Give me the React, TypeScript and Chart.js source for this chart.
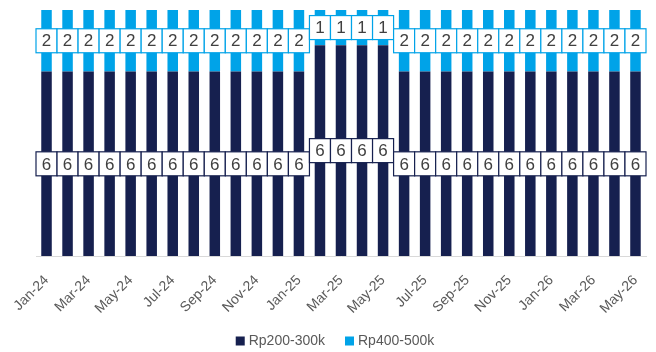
import React, { useEffect, useRef } from "react";
import { Chart, registerables } from "chart.js";

Chart.register(...registerables);

const months: string[] = [
  "Jan-24","Feb-24","Mar-24","Apr-24","May-24","Jun-24","Jul-24","Aug-24","Sep-24","Oct-24","Nov-24","Dec-24",
  "Jan-25","Feb-25","Mar-25","Apr-25","May-25","Jun-25","Jul-25","Aug-25","Sep-25","Oct-25","Nov-25","Dec-25",
  "Jan-26","Feb-26","Mar-26","Apr-26","May-26",
];
const rp200_300k: number[] = [6,6,6,6,6,6,6,6,6,6,6,6,6,6,6,6,6,6,6,6,6,6,6,6,6,6,6,6,6];
const rp400_500k: number[] = [2,2,2,2,2,2,2,2,2,2,2,2,2,1,1,1,1,2,2,2,2,2,2,2,2,2,2,2,2];
const seriesNames: string[] = ["Rp200-300k", "Rp400-500k"];

const DARK = "#16204F";
const LIGHT = "#00A3E8";
const FONT = "'Liberation Sans', Arial, sans-serif";

const labelPlugin = {
  id: "boxLabels",
  afterDatasetsDraw(chart: any) {
    const ctx = chart.ctx;
    const xScale = chart.scales.x;
    const catW = (xScale.right - xScale.left) / chart.data.labels.length;
    chart.data.datasets.forEach((ds: any, di: number) => {
      const meta = chart.getDatasetMeta(di);
      const raw: number[] = ds.rawValues;
      meta.data.forEach((el: any, i: number) => {
        const cx = el.x;
        const cy = (el.y + el.base) / 2;
        const w = catW;
        const h = 24;
        ctx.save();
        ctx.fillStyle = "#FFFFFF";
        ctx.fillRect(cx - w / 2, cy - h / 2, w, h);
        ctx.strokeStyle = ds.backgroundColor;
        ctx.lineWidth = 1.2;
        ctx.strokeRect(cx - w / 2, cy - h / 2, w, h);
        ctx.fillStyle = "#404040";
        ctx.font = `17px ${FONT}`;
        ctx.textAlign = "center";
        ctx.textBaseline = "middle";
        ctx.fillText(String(raw[i]), cx, cy + 1);
        ctx.restore();
      });
    });
  },
};

const legendPlugin = {
  id: "customLegend",
  afterDraw(chart: any) {
    const ctx = chart.ctx;
    ctx.save();
    ctx.font = `14px ${FONT}`;
    const box = 9;
    const gapBoxText = 4;
    const gapItems = 20;
    const items = chart.data.datasets.map((ds: any) => ({
      text: ds.label,
      color: ds.backgroundColor,
      w: ctx.measureText(ds.label).width,
    }));
    const total = items.reduce((s: number, it: any) => s + box + gapBoxText + it.w, 0) + gapItems * (items.length - 1);
    let x = chart.width / 2 + 7 - total / 2;
    const cy = 341;
    items.forEach((it: any) => {
      ctx.fillStyle = it.color;
      ctx.fillRect(x, cy - box / 2, box, box);
      x += box + gapBoxText;
      ctx.fillStyle = "#595959";
      ctx.textAlign = "left";
      ctx.textBaseline = "middle";
      ctx.fillText(it.text, x, cy + 0.5);
      x += it.w + gapItems;
    });
    ctx.restore();
  },
};

export default function App() {
  const ref = useRef<HTMLCanvasElement | null>(null);
  useEffect(() => {
    if (!ref.current) return;
    const totals = months.map((_, i) => rp200_300k[i] + rp400_500k[i]);
    const pct1 = rp200_300k.map((v, i) => (v / totals[i]) * 100);
    const pct2 = rp400_500k.map((v, i) => (v / totals[i]) * 100);
    const chart = new Chart(ref.current, {
      type: "bar",
      data: {
        labels: months,
        datasets: [
          {
            label: seriesNames[0],
            data: pct1,
            backgroundColor: DARK,
            borderWidth: 0,
            barPercentage: 0.5,
            categoryPercentage: 1,
            rawValues: rp200_300k,
          } as any,
          {
            label: seriesNames[1],
            data: pct2,
            backgroundColor: LIGHT,
            borderWidth: 0,
            barPercentage: 0.5,
            categoryPercentage: 1,
            rawValues: rp400_500k,
          } as any,
        ],
      },
      options: {
        animation: false,
        responsive: true,
        maintainAspectRatio: false,
        layout: { padding: { left: 36, right: 10, top: 10, bottom: 19 } },
        scales: {
          x: {
            stacked: true,
            grid: { display: false, drawTicks: false },
            border: { display: true, color: "#D9D9D9", width: 1 },
            afterFit: (s: any) => {
              s.paddingRight = 0;
              s.paddingLeft = 0;
            },
            ticks: {
              autoSkip: false,
              maxRotation: 45,
              minRotation: 45,
              padding: 16,
              color: "#595959",
              font: { family: FONT, size: 14 },
              callback: (_v: any, i: number) => (i % 2 === 0 ? months[i] : ""),
            },
          },
          y: {
            stacked: true,
            display: false,
            min: 0,
            max: 100,
          },
        },
        plugins: {
          legend: { display: false },
          tooltip: { enabled: false },
        },
      },
      plugins: [labelPlugin, legendPlugin],
    });
    return () => chart.destroy();
  }, []);
  return (
    <div style={{ position: "fixed", left: 0, top: 0, width: 656, height: 352, background: "#fff" }}>
      <canvas ref={ref} />
    </div>
  );
}
